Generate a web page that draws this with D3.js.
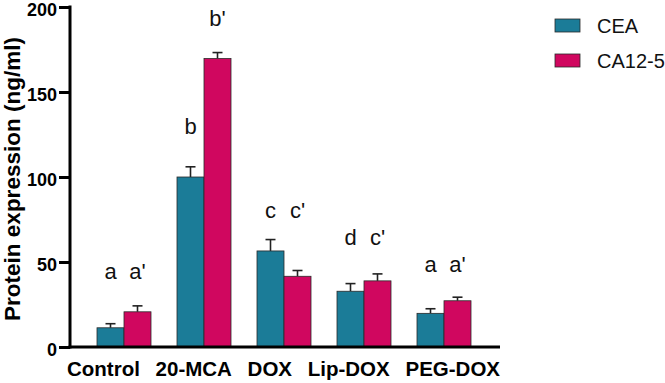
<!DOCTYPE html>
<html>
<head>
<meta charset="utf-8">
<script src="https://cdn.jsdelivr.net/npm/d3@7"></script>
<style>
  body { margin: 0; background: #fff; }
  text { font-family: "Liberation Sans", Arial, sans-serif; }
</style>
</head>
<body>
<script>
// Data
var groups = ["Control", "20-MCA", "DOX", "Lip-DOX", "PEG-DOX"];
var series = ["CEA", "CA12-5"];
var ceaMean = [11.3, 100, 56.5, 32.8, 19.8];
var ceaErr  = [2.4, 6, 6.7, 4.5, 2.7];
var caMean  = [20.7, 169.7, 41.6, 38.9, 27.2];
var caErr   = [3.5, 3.5, 3.4, 4.1, 2.1];
var ceaLetters = ["a", "b", "c", "d", "a"];
var caLetters  = ["a'", "b'", "c'", "c'", "a'"];
// height (in ng/ml) where each letter sits
var ceaLetterAt = [40, 125.5, 76, 60, 44];
var caLetterAt  = [40, 189, 76, 60, 44];
var yTicks = [0, 50, 100, 150, 200];

// Size
var w = 665, h = 383;
var colors = ["#1b7c98", "#d0075f"];

var svg = d3.select("body").append("svg")
    .attr("width", w)
    .attr("height", h);

// Scales
var y = d3.scaleLinear().domain([0, 200]).range([347, 7]);
var x0 = d3.scaleBand().domain(groups).range([84, 484]).padding(0);
var x1 = d3.scaleBand().domain(series).range([-27, 27]);

var rows = groups.map(function(g, i) {
  return [
    { g: g, s: "CEA", v: ceaMean[i], e: ceaErr[i], l: ceaLetters[i], la: ceaLetterAt[i] },
    { g: g, s: "CA12-5", v: caMean[i], e: caErr[i], l: caLetters[i], la: caLetterAt[i] }
  ];
});
var flat = d3.merge(rows);
function cx(d) { return x0(d.g) + x0.bandwidth() / 2 + x1(d.s) + x1.bandwidth() / 2; }

// Error bars (up only)
var eb = svg.append("g").attr("stroke", "#222").attr("stroke-width", 1.6);
eb.selectAll(".stem").data(flat).enter().append("line")
    .attr("x1", cx).attr("x2", cx)
    .attr("y1", function(d) { return y(d.v); })
    .attr("y2", function(d) { return y(d.v + d.e); });
eb.selectAll(".cap").data(flat).enter().append("line")
    .attr("x1", function(d) { return cx(d) - 5; })
    .attr("x2", function(d) { return cx(d) + 5; })
    .attr("y1", function(d) { return y(d.v + d.e); })
    .attr("y2", function(d) { return y(d.v + d.e); });

// Bars
svg.selectAll("rect.bar").data(flat).enter().append("rect")
    .attr("class", "bar")
    .attr("x", function(d) { return cx(d) - x1.bandwidth() / 2; })
    .attr("y", function(d) { return y(d.v); })
    .attr("width", x1.bandwidth())
    .attr("height", function(d) { return y(0) - y(d.v); })
    .attr("fill", function(d) { return colors[series.indexOf(d.s)]; })
    .attr("stroke", "#2a2a2a")
    .attr("stroke-width", 0.8);

// Letters
svg.selectAll("text.let").data(flat).enter().append("text")
    .attr("class", "let")
    .attr("x", cx)
    .attr("y", function(d) { return y(d.la); })
    .attr("text-anchor", "middle")
    .attr("font-size", 22)
    .attr("fill", "#111")
    .text(function(d) { return d.l; });

// Y axis
var yAxis = svg.append("g")
    .attr("transform", "translate(70,0)")
    .call(d3.axisLeft(y).tickValues(yTicks).tickSize(11).tickPadding(2));
yAxis.select(".domain").remove();
yAxis.selectAll("line").attr("stroke", "#000").attr("stroke-width", 3);
yAxis.selectAll("text").attr("font-size", 18).attr("font-weight", "bold")
    .attr("fill", "#000").attr("dy", "0.45em")
    .attr("font-family", "Liberation Sans, Arial, sans-serif");
svg.append("line").attr("x1", 70).attr("x2", 70).attr("y1", y(200) - 1.5).attr("y2", y(0) + 1.5)
    .attr("stroke", "#000").attr("stroke-width", 3);

// X axis line
svg.append("line").attr("x1", 68.5).attr("x2", 500).attr("y1", y(0)).attr("y2", y(0))
    .attr("stroke", "#000").attr("stroke-width", 3);

// X labels: spread across the axis width
var xl = svg.append("g").selectAll("text").data(groups).enter().append("text")
    .attr("y", 376)
    .attr("font-size", 20.5)
    .attr("font-weight", "bold")
    .attr("fill", "#000")
    .text(function(d) { return d; });
var widths = [];
xl.each(function() { widths.push(this.getComputedTextLength()); });
var left = 67, right = 500;
var gap = (right - left - d3.sum(widths)) / (groups.length - 1);
var pos = left;
xl.attr("x", function(d, i) { var p = pos; pos += widths[i] + gap; return p; });

// Y label
svg.append("text")
    .attr("transform", "translate(20," + (y(100) + 2) + ") rotate(-90)")
    .attr("text-anchor", "middle")
    .attr("font-size", 22.5)
    .attr("font-weight", "bold")
    .attr("fill", "#000")
    .text("Protein expression (ng/ml)");

// Legend
var lg = svg.append("g").selectAll("g").data(series).enter().append("g")
    .attr("transform", function(d, i) { return "translate(555," + (19 + i * 35) + ")"; });
lg.append("rect").attr("width", 25).attr("height", 13)
    .attr("fill", function(d, i) { return colors[i]; })
    .attr("stroke", "#2a2a2a").attr("stroke-width", 0.8);
lg.append("text").attr("x", 42).attr("y", 14)
    .attr("font-size", 20).attr("fill", "#111")
    .text(function(d) { return d; });
</script>
</body>
</html>
